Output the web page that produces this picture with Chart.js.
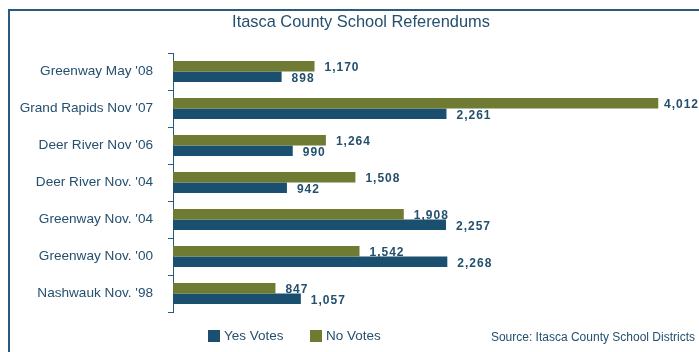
<!DOCTYPE html>
<html>
<head>
<meta charset="utf-8">
<script src="https://cdn.jsdelivr.net/npm/chart.js@4"></script>
<style>
  html, body { margin: 0; padding: 0; background: #fff; }
  .wrap { position: relative; width: 699px; height: 352px; overflow: hidden; }
  .frame { position: absolute; left: 8px; top: 9px; width: 720px; height: 400px;
           border-left: 2px solid #2b5a7c; border-top: 2px solid #2b5a7c; }
  canvas { position: absolute; left: 0; top: 0; }
</style>
</head>
<body>
<div class="wrap">
  <div class="frame"></div>
  <canvas id="refChart" width="699" height="352"></canvas>
</div>
<script>
const chartTitle = 'Itasca County School Referendums';
const sourceNote = 'Source: Itasca County School Districts';
const categories = [
    'Greenway May \'08',
    'Grand Rapids Nov \'07',
    'Deer River Nov \'06',
    'Deer River Nov. \'04',
    'Greenway Nov. \'04',
    'Greenway Nov. \'00',
    'Nashwauk Nov. \'98'
];
const noVotes = [1170, 4012, 1264, 1508, 1908, 1542, 847];
const yesVotes = [898, 2261, 990, 942, 2257, 2268, 1057];

const textColor = '#24506e';
const oliveColor = '#6f7a33';
const blueColor = '#1a4f70';
const fontFamily = '"Liberation Sans", Arial, sans-serif';

// value labels at the end of each bar (kept inside the canvas)
const valueLabels = {
    id: 'valueLabels',
    afterDatasetsDraw(chart) {
        const ctx = chart.ctx;
        ctx.save();
        ctx.font = 'bold 12px ' + fontFamily;
        ctx.letterSpacing = '1px';
        ctx.fillStyle = textColor;
        ctx.textAlign = 'left';
        ctx.textBaseline = 'middle';
        chart.data.datasets.forEach((ds, i) => {
            chart.getDatasetMeta(i).data.forEach((bar, j) => {
                const txt = ds.data[j].toLocaleString('en-US');
                const w = ctx.measureText(txt).width;
                const x = Math.min(bar.x + 10, chart.width - w);
                ctx.fillText(txt, x, bar.y + 1.5);
            });
        });
        ctx.restore();
    }
};

// title, legend and source note
const notes = {
    id: 'notes',
    afterDraw(chart) {
        const ctx = chart.ctx;
        ctx.save();
        ctx.fillStyle = textColor;
        ctx.textBaseline = 'middle';
        ctx.textAlign = 'center';
        ctx.font = '16.4px ' + fontFamily;
        ctx.fillText(chartTitle, 361, 22);

        ctx.textAlign = 'left';
        ctx.font = '13.5px ' + fontFamily;
        const items = [chart.data.datasets[1], chart.data.datasets[0]];
        let x = 208;
        items.forEach(ds => {
            ctx.fillStyle = ds.backgroundColor;
            ctx.fillRect(x, 330, 12, 12);
            ctx.fillStyle = textColor;
            ctx.fillText(ds.label, x + 16, 336.5);
            x += 102;
        });
        ctx.font = '12px ' + fontFamily;
        ctx.textAlign = 'right';
        ctx.fillText(sourceNote, 695, 338);
        ctx.restore();
    }
};

new Chart(document.getElementById('refChart').getContext('2d'), {
    type: 'bar',
    data: {
        labels: categories,
        datasets: [
            { label: 'No Votes', data: noVotes, backgroundColor: oliveColor,
              categoryPercentage: 0.57, barPercentage: 1.0 },
            { label: 'Yes Votes', data: yesVotes, backgroundColor: blueColor,
              categoryPercentage: 0.57, barPercentage: 1.0 }
        ]
    },
    options: {
        indexAxis: 'y',
        responsive: false,
        animation: false,
        layout: { padding: { left: 0, right: 18, top: 53, bottom: 40 } },
        plugins: {
            legend: { display: false },
            tooltip: { enabled: false },
            title: { display: false }
        },
        scales: {
            x: {
                display: false,
                min: 0,
                max: 4200
            },
            y: {
                afterFit: function(scale) { scale.width = 173; },
                border: { display: true, color: '#2b5a7c', width: 1 },
                grid: { drawOnChartArea: false, drawTicks: true, tickLength: 5,
                        offset: true, color: '#2b5a7c' },
                ticks: {
                    color: textColor,
                    padding: 15,
                    font: { family: fontFamily, size: 13.6 }
                }
            }
        }
    },
    plugins: [valueLabels, notes]
});
</script>
</body>
</html>
